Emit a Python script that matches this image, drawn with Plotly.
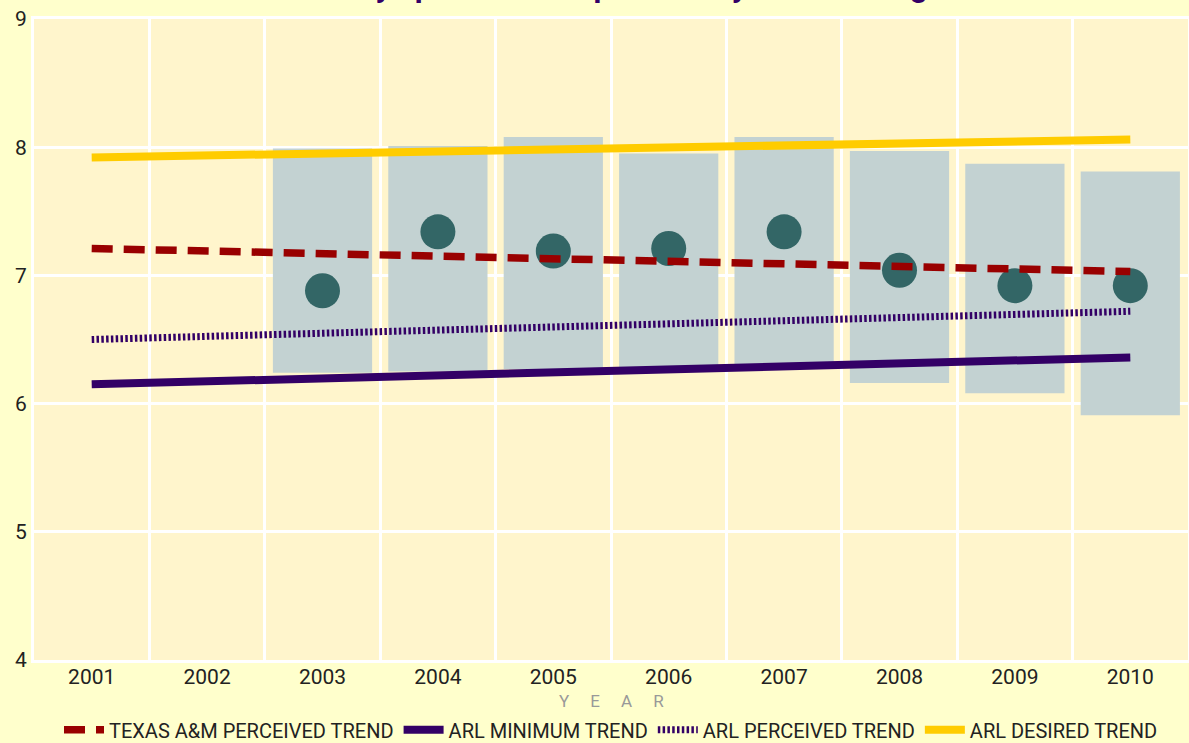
import plotly.graph_objects as go

years = ["2001", "2002", "2003", "2004", "2005", "2006", "2007", "2008", "2009", "2010"]

bar_years = ["2003", "2004", "2005", "2006", "2007", "2008", "2009", "2010"]
bar_low = [6.24, 6.25, 6.27, 6.28, 6.30, 6.16, 6.08, 5.91]
bar_high = [7.99, 8.01, 8.08, 7.95, 8.08, 7.97, 7.87, 7.81]
perceived_tamu = [6.88, 7.34, 7.19, 7.21, 7.34, 7.04, 6.92, 6.92]

trend_years = ["2001", "2010"]
tamu_trend = [7.21, 7.03]
arl_min_trend = [6.15, 6.36]
arl_perceived_trend = [6.50, 6.72]
arl_desired_trend = [7.92, 8.06]

title_text = "Library space that inspires study and learning"
y_ticks = [4, 5, 6, 7, 8, 9]

FONT = "Roboto, Open Sans, sans-serif"

fig = go.Figure()

fig.add_trace(go.Bar(
    x=bar_years,
    y=[h - l for h, l in zip(bar_high, bar_low)],
    base=bar_low,
    width=0.86,
    marker=dict(color="#C3D2D2", line=dict(width=0)),
    showlegend=False,
    hoverinfo="skip",
))

fig.add_trace(go.Scatter(
    x=bar_years, y=perceived_tamu, mode="markers",
    marker=dict(size=35, color="#336666", line=dict(width=0)),
    showlegend=False,
))

fig.add_trace(go.Scatter(
    x=trend_years, y=tamu_trend, mode="lines",
    name="TEXAS A&M PERCEIVED TREND",
    line=dict(color="#990000", width=7.5, dash="21px,11px"),
))
fig.add_trace(go.Scatter(
    x=trend_years, y=arl_min_trend, mode="lines",
    name="ARL MINIMUM TREND",
    line=dict(color="#330066", width=8),
))
fig.add_trace(go.Scatter(
    x=trend_years, y=arl_perceived_trend, mode="lines",
    name="ARL PERCEIVED TREND",
    line=dict(color="#330066", width=7, dash="2.5px,2.3px"),
))
fig.add_trace(go.Scatter(
    x=trend_years, y=arl_desired_trend, mode="lines",
    name="ARL DESIRED TREND",
    line=dict(color="#FFCC00", width=8),
))

fig.update_layout(
    width=1189, height=743,
    margin=dict(l=34, r=1, t=19, b=83, autoexpand=False),
    paper_bgcolor="#FFFFCC",
    plot_bgcolor="#FFF5CC",
    showlegend=True,
    legend=dict(
        orientation="h", x=0.5, xanchor="center", y=-0.109, yanchor="middle",
        font=dict(family=FONT, size=20, color="#222222"),
        bgcolor="rgba(0,0,0,0)", itemwidth=40,
    ),
    font=dict(family=FONT, color="#222222"),
)

fig.update_xaxes(
    type="category", categoryorder="array", categoryarray=years,
    range=[-0.5, 9.5], tickson="boundaries",
    showgrid=True, gridcolor="white", gridwidth=3,
    showline=True, linecolor="white", linewidth=3, mirror=True,
    ticks="", tickfont=dict(family=FONT, size=21, color="#222222"),
    ticklabeloverflow="allow", ticklabelstandoff=-4,
    zeroline=False,
)
fig.update_yaxes(
    range=[4, 9], tickvals=y_ticks,
    showgrid=True, gridcolor="white", gridwidth=3,
    showline=True, linecolor="white", linewidth=3, mirror=True,
    ticks="", tickfont=dict(family=FONT, size=21, color="#222222"),
    ticklabeloverflow="allow",
    zeroline=False,
)

fig.add_annotation(
    text="<b>" + title_text + "</b>",
    xref="paper", yref="paper", x=0.5, y=1.05, xanchor="center", yanchor="middle",
    showarrow=False, font=dict(family=FONT, size=31, color="#330066"),
)

sp = "\u00a0" * 5
fig.add_annotation(
    text=sp.join(list("YEAR")),
    xref="paper", yref="paper", x=0.5, y=-0.064, xanchor="center", yanchor="middle",
    showarrow=False, font=dict(family=FONT, size=17, color="#999999"),
)

fig.write_html(
    "out.html",
    config={"displayModeBar": False},
    post_script="document.body.style.margin='0';document.body.style.overflow='hidden';",
)
